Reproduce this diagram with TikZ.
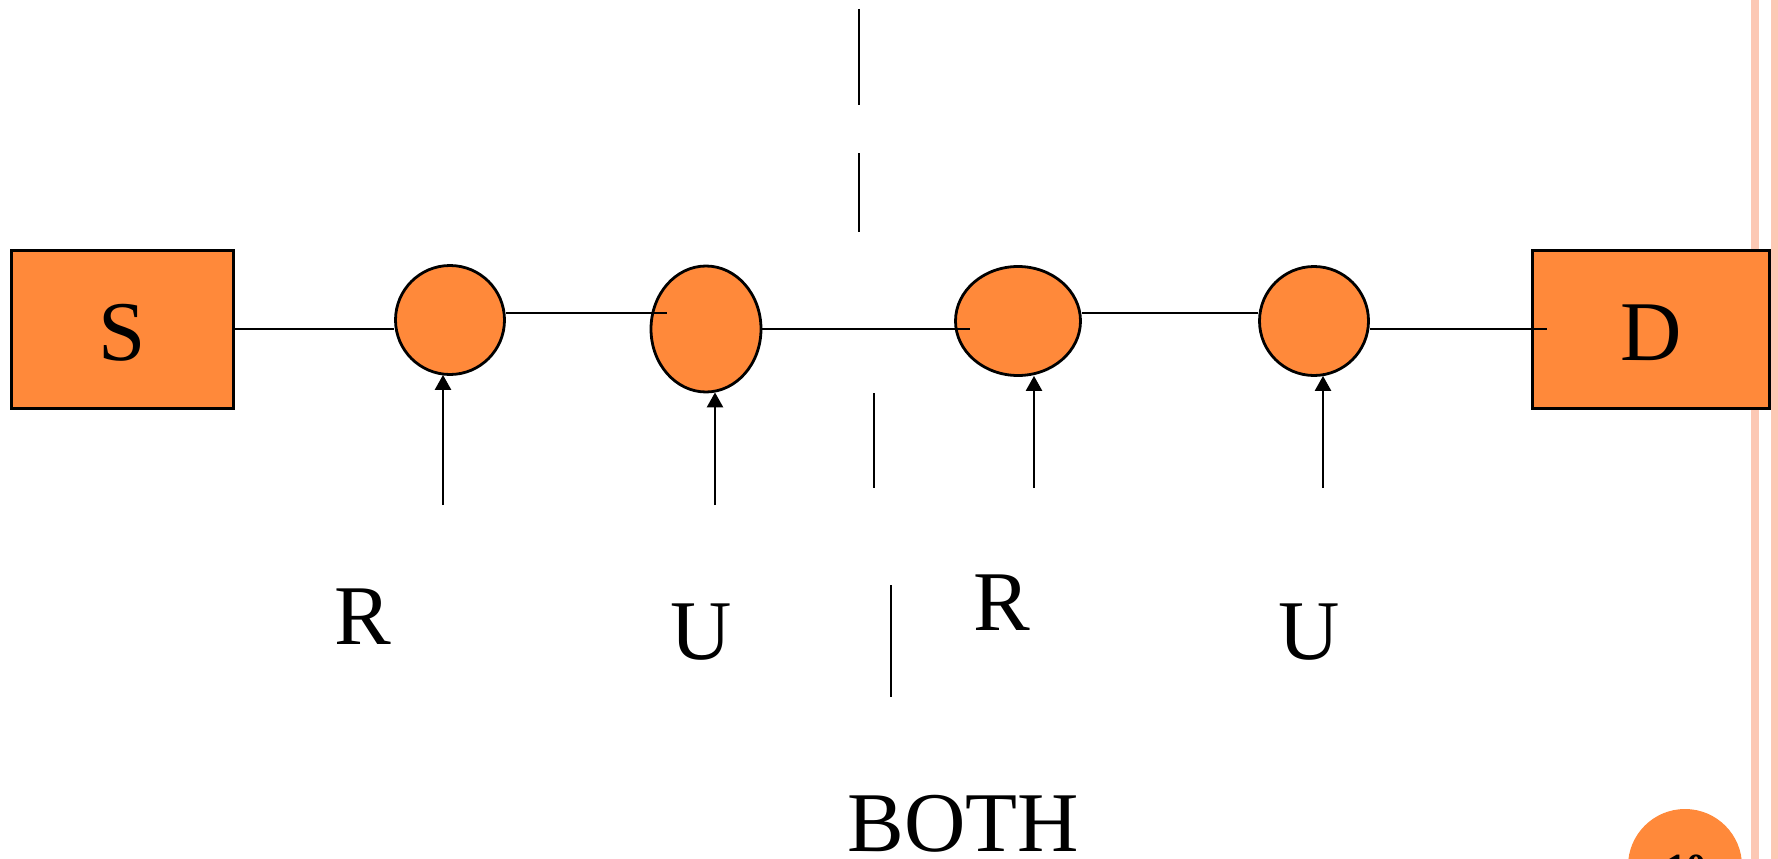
\documentclass[tikz,border=0pt]{standalone}
\usepackage{fontspec}
\setmainfont{Liberation Serif}
\usetikzlibrary{arrows.meta,shapes.geometric}
\definecolor{orng}{HTML}{FF893A}
\definecolor{pinkline}{HTML}{FCC8B4}
\begin{document}
\begin{tikzpicture}[x=1pt,y=-1pt,
  bigfont/.style={font=\fontsize{85}{100}\selectfont},
  box/.style={draw=black,line width=3pt,fill=orng,inner sep=0pt,text height=63pt,text depth=0pt,bigfont},
  relay/.style={ellipse,draw=black,line width=2.8pt,fill=orng,inner sep=0pt},
  link/.style={line width=2.5pt},
  arr/.style={line width=2.5pt,-{Triangle[width=16pt,length=15pt]}},
  sep/.style={line width=2.5pt},
  lbl/.style={bigfont,anchor=base,inner sep=0pt}]
\useasboundingbox (0,0) rectangle (1778,859);
\clip (0,0) rectangle (1778,859);
% pink margin lines
\fill[pinkline] (1751,0) rectangle (1759,859);
\fill[pinkline] (1771,0) rectangle (1778,859);
% source / destination
\node[box,minimum width=222pt,minimum height=158pt] (S) at (122.5,329) {S};
\node[box,minimum width=237pt,minimum height=158pt] (D) at (1651,329) {D};
% relays
\node[relay,minimum width=109pt,minimum height=109pt] (c1) at (450,320) {};
\node[relay,minimum width=110pt,minimum height=126pt] (c2) at (706,329) {};
\node[relay,minimum width=125pt,minimum height=109pt] (c3) at (1018,321) {};
\node[relay,minimum width=109pt,minimum height=109pt] (c4) at (1314,321) {};
% links
\draw[link] (S.east) -- (S.east -| c1.west);
\draw[link] ([yshift=7pt]c1.east) -- ([xshift=17pt,yshift=16pt]c2.west);
\draw[link] (c2.east) -- ([xshift=16pt,yshift=-8pt]c3.west);
\draw[link] ([yshift=8pt]c3.east) -- ([yshift=8pt]c4.west);
\draw[link] ([yshift=-8pt]c4.east) -- ([xshift=16pt]D.west);
% arrows from below
\coordinate (a1) at (443,505);
\coordinate (a2) at (715,505);
\coordinate (a3) at (1034,488);
\coordinate (a4) at (1323,488);
\draw[arr] (a1) -- ([yshift=1pt]a1 |- c1.south);
\draw[arr] (a2) -- ([yshift=1pt]a2 |- c2.south);
\draw[arr] (a3) -- ([yshift=1pt]a3 |- c3.south);
\draw[arr] (a4) -- ([yshift=1pt]a4 |- c4.south);
% dashed separator segments
\draw[sep] (859,9) -- (859,105);
\draw[sep] (859,153) -- (859,232);
\draw[sep] (874,393) -- (874,488);
\draw[sep] (891,585) -- (891,697);
% labels
\node[lbl] (r1) at (363,644) {R};
\node[lbl] (u1) at (701,659) {U};
\node[lbl] (r2) at (1002,630.5) {R};
\node[lbl] (u2) at (1309,659) {U};
\node[lbl] (both) at (963,851) {BOTH};
% slide number badge
\node[circle,fill=orng,minimum size=114pt,inner sep=0pt] (badge) at (1685,866) {};
\node[anchor=base,inner sep=0pt,font=\fontsize{40}{48}\selectfont\bfseries] (num) at (1686,881) {10};
\end{tikzpicture}
\end{document}
